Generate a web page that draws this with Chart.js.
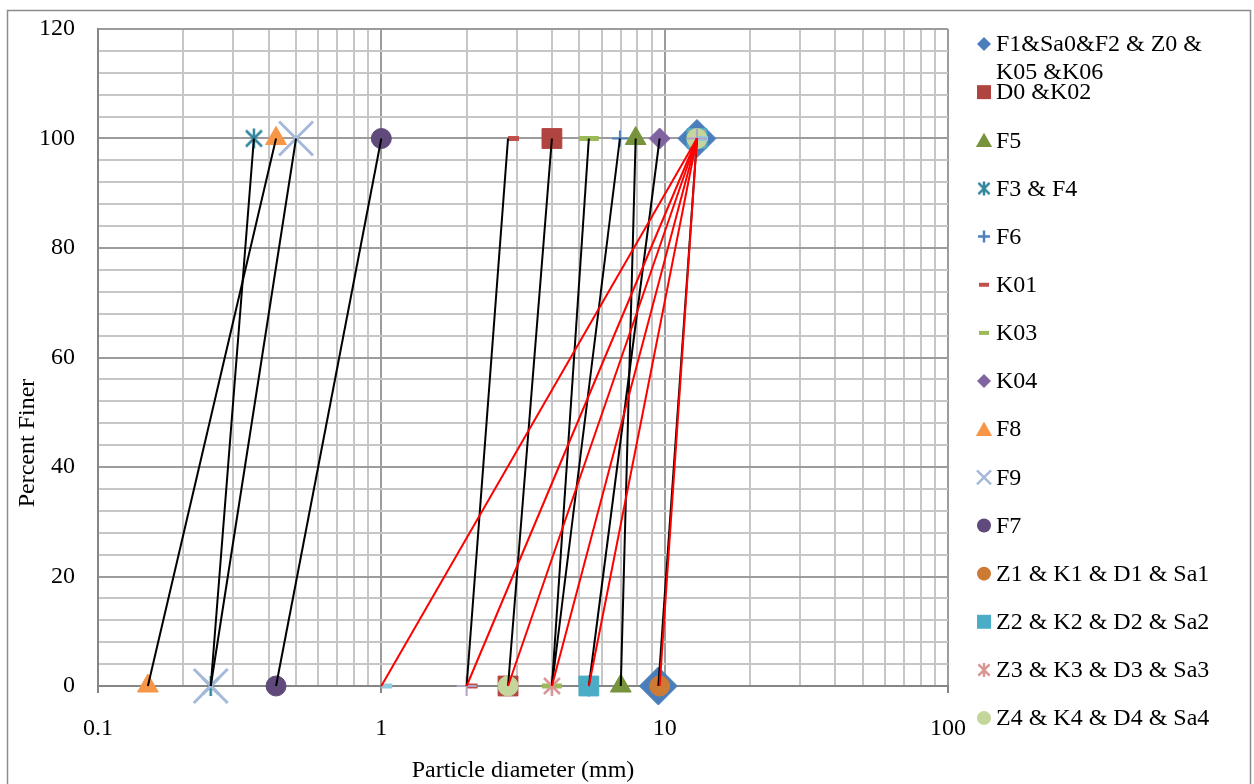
<!DOCTYPE html>
<html>
<head>
<meta charset="utf-8">
<title>Particle size distribution</title>
<script src="https://cdn.jsdelivr.net/npm/chart.js@4.4.1/dist/chart.umd.min.js"></script>
<style>
  html, body { margin: 0; padding: 0; background: #fff; }
  #wrap { position: relative; width: 1254px; height: 784px; overflow: hidden; }
</style>
</head>
<body>
<div id="wrap"><canvas id="psd" width="1254" height="784"></canvas></div>
<script>
/************** data ****************/
const seriesNames = [
    "F1&Sa0&F2 & Z0 & K05 &K06", "D0 &K02", "F5", "F3 & F4", "F6", "K01", "K03", "K04",
    "F8", "F9", "F7", "Z1 & K1 & D1 & Sa1", "Z2 & K2 & D2 & Sa2", "Z3 & K3 & D3 & Sa3",
    "Z4 & K4 & D4 & Sa4", "", ""
];
// particle diameter (mm) at 0 % finer and at 100 % finer
const sizeAtZero    = [9.5, 2.8, 7.0, 0.25, 4.0, 2.0, 4.0, 5.4, 0.15, 0.25, 0.425, 9.6, 5.4, 4.0, 2.8, 1.0, 2.0];
const sizeAtHundred = [13, 4.0, 7.9, 0.355, 6.95, 2.8, 5.4, 9.6, 0.425, 0.5, 1.0, 13, 13, 13, 13, 13, 13];
const percentFiner = [0, 100];
const xTickLabels = [0.1, 1, 10, 100];
const yTickLabels = [0, 20, 40, 60, 80, 100, 120];

/************** styles ****************/
const RED = "#ff0000";
const BLACK = "#000000";
const markerStyles = [
    { style: "rectRot",  color: "#4a7ebb", r: 19, bw: 1, lr: 7,   line: BLACK },
    { style: "rect",     color: "#b0443f", r: 14, bw: 1, lr: 10,  line: BLACK },
    { style: "triangle", color: "#77933c", r: 12, bw: 1, lr: 9,   line: BLACK },
    { style: "asterisk", color: "#31859c", r: 10, bw: 2.5, lr: 7, line: BLACK },
    { style: "cross",    color: "#4f81bd", r: 8,  bw: 2, lr: 6,   line: BLACK },
    { style: "dash",     color: "#c0504d", r: 11, bw: 5, lr: 5,   line: BLACK },
    { style: "line",     color: "#9bbb59", r: 10, bw: 5, lr: 5,   line: BLACK },
    { style: "rectRot",  color: "#8064a2", r: 10.5, bw: 1, lr: 7, line: BLACK },
    { style: "triangle", color: "#f79646", r: 12, bw: 1, lr: 9,   line: BLACK },
    { style: "crossRot", color: "#a5b9d9", r: 24, bw: 3, lr: 10,  line: BLACK },
    { style: "circle",   color: "#604a7b", r: 10, bw: 1, lr: 7,   line: BLACK },
    { style: "circle",   color: "#cd7a35", r: 10, bw: 1, lr: 7,   line: RED },
    { style: "rect",     color: "#4bacc6", r: 14, bw: 1, lr: 10,  line: RED },
    { style: "asterisk", color: "#d99694", r: 10, bw: 2.5, lr: 7, line: RED },
    { style: "circle",   color: "#c3d69b", r: 10, bw: 1, lr: 7,   line: RED },
    { style: "dash",     color: "#93cddd", r: 11, bw: 5, lr: 5,   line: RED },
    { style: "cross",    color: "#b3a2c7", r: 10, bw: 2, lr: 7,   line: RED }
];

const FONT = '"Liberation Serif", "Times New Roman", serif';

// Excel-like asterisk (X with a vertical bar) as a small canvas
function asterisk(color, r, lw) {
    const c = document.createElement("canvas");
    c.width = c.height = Math.ceil(2 * r + 4);
    const g = c.getContext("2d");
    const m = c.width / 2, d = r * 0.8;
    g.strokeStyle = color;
    g.lineWidth = lw;
    g.beginPath();
    g.moveTo(m - d, m - d); g.lineTo(m + d, m + d);
    g.moveTo(m + d, m - d); g.lineTo(m - d, m + d);
    g.moveTo(m, m - r); g.lineTo(m, m + r);
    g.stroke();
    return c;
}

function pointStyleOf(m, r) {
    return m.style === "asterisk" ? asterisk(m.color, r, m.bw) : m.style;
}

/************** datasets ****************/
const markerSets = [];
const lineSets = [];
seriesNames.forEach((name, i) => {
    const pts = percentFiner.map((p, k) => ({ x: k === 0 ? sizeAtZero[i] : sizeAtHundred[i], y: p }));
    const m = markerStyles[i];
    markerSets.push({
        label: name,
        data: pts,
        showLine: false,
        pointStyle: pointStyleOf(m, m.r),
        pointRadius: m.r,
        pointBackgroundColor: m.color,
        pointBorderColor: m.color,
        pointBorderWidth: m.bw,
        order: 100 - i,
        clip: false
    });
    lineSets.push({
        label: name + " line",
        data: pts,
        showLine: true,
        borderColor: m.line,
        borderWidth: 2,
        pointRadius: 0,
        order: 40 - i,
        clip: false
    });
});

/************** legend + titles ****************/
function drawMarker(ctx, m, x, y) {
    const r = m.lr;
    ctx.save();
    ctx.fillStyle = m.color;
    ctx.strokeStyle = m.color;
    ctx.lineWidth = m.style === "line" || m.style === "dash" ? 4 : (m.style.startsWith("cross") ? 2.5 : 1);
    ctx.beginPath();
    switch (m.style) {
        case "rectRot":
            ctx.moveTo(x, y - r); ctx.lineTo(x + r, y); ctx.lineTo(x, y + r); ctx.lineTo(x - r, y); ctx.closePath();
            ctx.fill(); break;
        case "rect":
            ctx.rect(x - r * 0.7, y - r * 0.7, r * 1.4, r * 1.4); ctx.fill(); break;
        case "triangle":
            ctx.moveTo(x, y - r * 0.85); ctx.lineTo(x + r * 0.9, y + r * 0.75); ctx.lineTo(x - r * 0.9, y + r * 0.75); ctx.closePath();
            ctx.fill(); break;
        case "circle":
            ctx.arc(x, y, r, 0, Math.PI * 2); ctx.fill(); break;
        case "cross":
            ctx.moveTo(x - r, y); ctx.lineTo(x + r, y); ctx.moveTo(x, y - r); ctx.lineTo(x, y + r); ctx.stroke(); break;
        case "crossRot":
            ctx.moveTo(x - r * 0.7, y - r * 0.7); ctx.lineTo(x + r * 0.7, y + r * 0.7);
            ctx.moveTo(x + r * 0.7, y - r * 0.7); ctx.lineTo(x - r * 0.7, y + r * 0.7); ctx.stroke(); break;
        case "line":
        case "dash":
            ctx.moveTo(x - r, y); ctx.lineTo(x + r, y); ctx.stroke(); break;
        case "asterisk":
            ctx.drawImage(asterisk(m.color, r, 2.5), x - r - 2, y - r - 2); break;
    }
    ctx.restore();
}

function wrapText(ctx, text, maxWidth) {
    const words = text.split(" ");
    const lines = [];
    let cur = "";
    words.forEach(w => {
        const test = cur ? cur + " " + w : w;
        if (cur && ctx.measureText(test).width > maxWidth) {
            lines.push(cur);
            cur = w;
        } else {
            cur = test;
        }
    });
    if (cur) lines.push(cur);
    return lines;
}

const sideLegend = {
    id: "sideLegend",
    beforeDraw(chart) {
        const ctx = chart.ctx;
        ctx.save();
        ctx.strokeStyle = "#8c8c8c";
        ctx.lineWidth = 1.5;
        ctx.strokeRect(7.5, 10.5, chart.width - 11, chart.height + 20);
        ctx.restore();
    },
    afterDraw(chart) {
        const ctx = chart.ctx;
        const area = chart.chartArea;
        ctx.save();
        ctx.font = "24px " + FONT;
        ctx.fillStyle = "#000";
        ctx.textBaseline = "middle";
        ctx.textAlign = "left";
        const step = 48.15;
        seriesNames.forEach((name, i) => {
            if (!name) return;
            const y = area.top + 15 + step * i;
            drawMarker(ctx, markerStyles[i], area.right + 36, y);
            wrapText(ctx, name, 240).forEach((ln, k) => {
                ctx.fillText(ln, area.right + 48, y + 1 + k * 28);
            });
        });

        // axis titles
        ctx.textAlign = "center";
        ctx.fillText("Particle diameter (mm)", (area.left + area.right) / 2, 771);
        ctx.translate(28, 443);
        ctx.rotate(-Math.PI / 2);
        ctx.fillText("Percent Finer", 0, 0);
        ctx.restore();
    }
};

/************** chart ****************/
function isDecade(v) {
    const l = Math.log10(v);
    return Math.abs(l - Math.round(l)) < 1e-9;
}

Chart.defaults.font.family = FONT;
Chart.defaults.font.size = 24;
Chart.defaults.color = "#000";

const config = {
    type: "scatter",
    data: { datasets: markerSets.concat(lineSets) },
    options: {
        responsive: false,
        animation: false,
        events: [],
        layout: { padding: { top: 29, right: 306, left: 0, bottom: 0 } },
        plugins: { legend: { display: false }, tooltip: { enabled: false } },
        scales: {
            x: {
                type: "logarithmic",
                min: 0.1,
                max: 100,
                afterBuildTicks: scale => {
                    const ticks = [];
                    for (let e = -1; e < 2; e++) {
                        for (let s = 1; s < 10; s++) {
                            ticks.push({ value: parseFloat((s * Math.pow(10, e)).toPrecision(3)) });
                        }
                    }
                    ticks.push({ value: 100 });
                    scale.ticks = ticks;
                },
                afterFit: scale => { scale.height = 98; },
                ticks: {
                    autoSkip: false,
                    maxRotation: 0,
                    padding: 21,
                    callback: v => xTickLabels.some(t => Math.abs(t - v) < 1e-9) ? String(v) : ""
                },
                grid: {
                    color: ctx => isDecade(ctx.tick.value) ? "#9c9c9c" : "#c6c6c6",
                    lineWidth: 2,
                    tickLength: 7,
                    tickColor: ctx => isDecade(ctx.tick.value) ? "#868686" : "rgba(0,0,0,0)"
                },
                border: { color: "#868686", width: 2 }
            },
            y: {
                min: 0,
                max: 120,
                afterFit: scale => {
                    scale.width = 98;
                    scale.paddingTop = 0;
                    scale.paddingBottom = 0;
                },
                ticks: {
                    stepSize: 4,
                    autoSkip: false,
                    padding: 23,
                    callback: v => yTickLabels.includes(v) ? String(v) : ""
                },
                grid: {
                    color: ctx => ctx.tick.value % 20 === 0 ? "#9c9c9c" : "#c6c6c6",
                    lineWidth: 2,
                    drawTicks: false
                },
                border: { color: "#868686", width: 2 }
            }
        }
    },
    plugins: [sideLegend]
};

const psdChart = new Chart(document.getElementById("psd"), config);
</script>
</body>
</html>
